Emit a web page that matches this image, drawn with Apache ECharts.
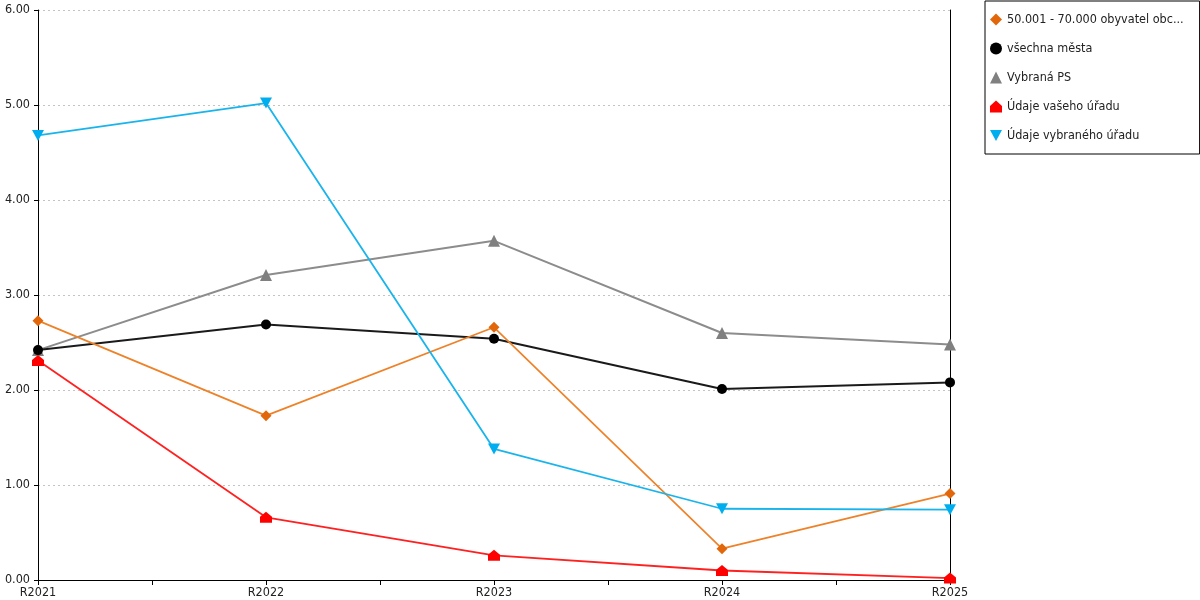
<!DOCTYPE html>
<html>
<head>
<meta charset="utf-8">
<script src="https://cdn.jsdelivr.net/npm/echarts@6/dist/echarts.min.js"></script>
<style>
  html, body { margin: 0; padding: 0; background: #fff; }
  #chart { width: 1200px; height: 600px; }
</style>
</head>
<body>
<div id="chart"></div>
<script>
var categories = ["R2021", "R2022", "R2023", "R2024", "R2025"];

var seriesNames = [
  "50.001 - 70.000 obyvatel obce s rozšířenou působností",
  "všechna města",
  "Vybraná PS",
  "Údaje vašeho úřadu",
  "Údaje vybraného úřadu"
];

var obyvatelValues = [2.73, 1.73, 2.66, 0.33, 0.91];
var mestaValues = [2.42, 2.69, 2.54, 2.01, 2.08];
var psValues = [2.42, 3.21, 3.57, 2.60, 2.48];
var vasUradValues = [2.31, 0.66, 0.26, 0.10, 0.02];
var vybranyUradValues = [4.68, 5.02, 1.38, 0.75, 0.74];

var yTicks = [0, 1, 2, 3, 4, 5, 6];

var housePath = "path://M5,0 L10,4.5 L10,10 L0,10 L0,4.5 Z";
var downTriangle = "path://M0,0 L10,0 L5,9 Z";

var font = "DejaVu Sans Condensed";

function toPoints(values) {
  return values.map(function (v, i) {
    return [i, v];
  });
}

var chart = echarts.init(document.getElementById("chart"));

var option = {
  animation: false,
  backgroundColor: "#fff",
  textStyle: { fontFamily: font },
  grid: {
    left: 38,
    right: 250,
    top: 10,
    bottom: 20,
    containLabel: false,
  },
  legend: {
    orient: "vertical",
    left: 985,
    top: 1,
    width: 214,
    padding: [12, 16, 12, 5],
    itemWidth: 12,
    itemHeight: 12,
    itemGap: 16,
    borderColor: "#000",
    borderWidth: 1,
    textStyle: {
      fontFamily: font,
      fontSize: 12.5,
      color: "#222",
      width: 182,
      overflow: "truncate",
      ellipsis: "...",
    },
    data: [
      { name: seriesNames[0], icon: "diamond" },
      { name: seriesNames[1], icon: "circle" },
      { name: seriesNames[2], icon: "triangle" },
      { name: seriesNames[3], icon: housePath },
      { name: seriesNames[4], icon: downTriangle },
    ],
  },
  xAxis: {
    type: "value",
    min: 0,
    max: categories.length - 1,
    interval: 0.5,
    axisLine: { show: true, lineStyle: { color: "#000", width: 1 } },
    axisTick: { show: true, length: 5, lineStyle: { color: "#000" } },
    splitLine: { show: false },
    axisLabel: {
      color: "#222",
      fontFamily: font,
      fontSize: 12.5,
      margin: 6,
      formatter: function (v) {
        return Number.isInteger(v) ? categories[v] : "";
      },
    },
  },
  yAxis: [
    {
      type: "value",
      min: yTicks[0],
      max: yTicks[yTicks.length - 1],
      interval: 1,
      axisLine: { show: true, lineStyle: { color: "#000", width: 1 } },
      axisTick: { show: true, length: 4, lineStyle: { color: "#000" } },
      axisLabel: {
        color: "#222",
        fontFamily: font,
        fontSize: 12.5,
        margin: 8,
        formatter: function (v) {
          return v.toFixed(2);
        },
      },
      splitLine: {
        show: true,
        lineStyle: { color: "#c4c4c4", type: [2, 3], width: 1 },
      },
    },
    {
      type: "value",
      position: "right",
      min: yTicks[0],
      max: yTicks[yTicks.length - 1],
      interval: 1,
      axisLine: { show: true, lineStyle: { color: "#000", width: 1 } },
      axisTick: { show: false },
      axisLabel: { show: false },
      splitLine: { show: false },
    },
  ],
  series: [
    {
      name: seriesNames[0],
      type: "line",
      data: toPoints(obyvatelValues),
      symbol: "diamond",
      symbolSize: 11,
      lineStyle: { color: "#ee8229", width: 1.7 },
      itemStyle: { color: "#e2670a" },
      z: 5,
    },
    {
      name: seriesNames[1],
      type: "line",
      data: toPoints(mestaValues),
      symbol: "circle",
      symbolSize: 10,
      lineStyle: { color: "#1a1a1a", width: 2 },
      itemStyle: { color: "#000" },
      z: 4,
    },
    {
      name: seriesNames[2],
      type: "line",
      data: toPoints(psValues),
      symbol: "triangle",
      symbolSize: 12,
      lineStyle: { color: "#8c8c8c", width: 2 },
      itemStyle: { color: "#808080" },
      z: 3,
    },
    {
      name: seriesNames[3],
      type: "line",
      data: toPoints(vasUradValues),
      symbol: housePath,
      symbolSize: [12, 11],
      lineStyle: { color: "#ff2020", width: 1.8 },
      itemStyle: { color: "#ff0000" },
      z: 6,
    },
    {
      name: seriesNames[4],
      type: "line",
      data: toPoints(vybranyUradValues),
      symbol: downTriangle,
      symbolSize: [12, 11],
      lineStyle: { color: "#1ab4ec", width: 1.8 },
      itemStyle: { color: "#00aeef" },
      z: 7,
    },
  ],
};

chart.setOption(option);
</script>
</body>
</html>
